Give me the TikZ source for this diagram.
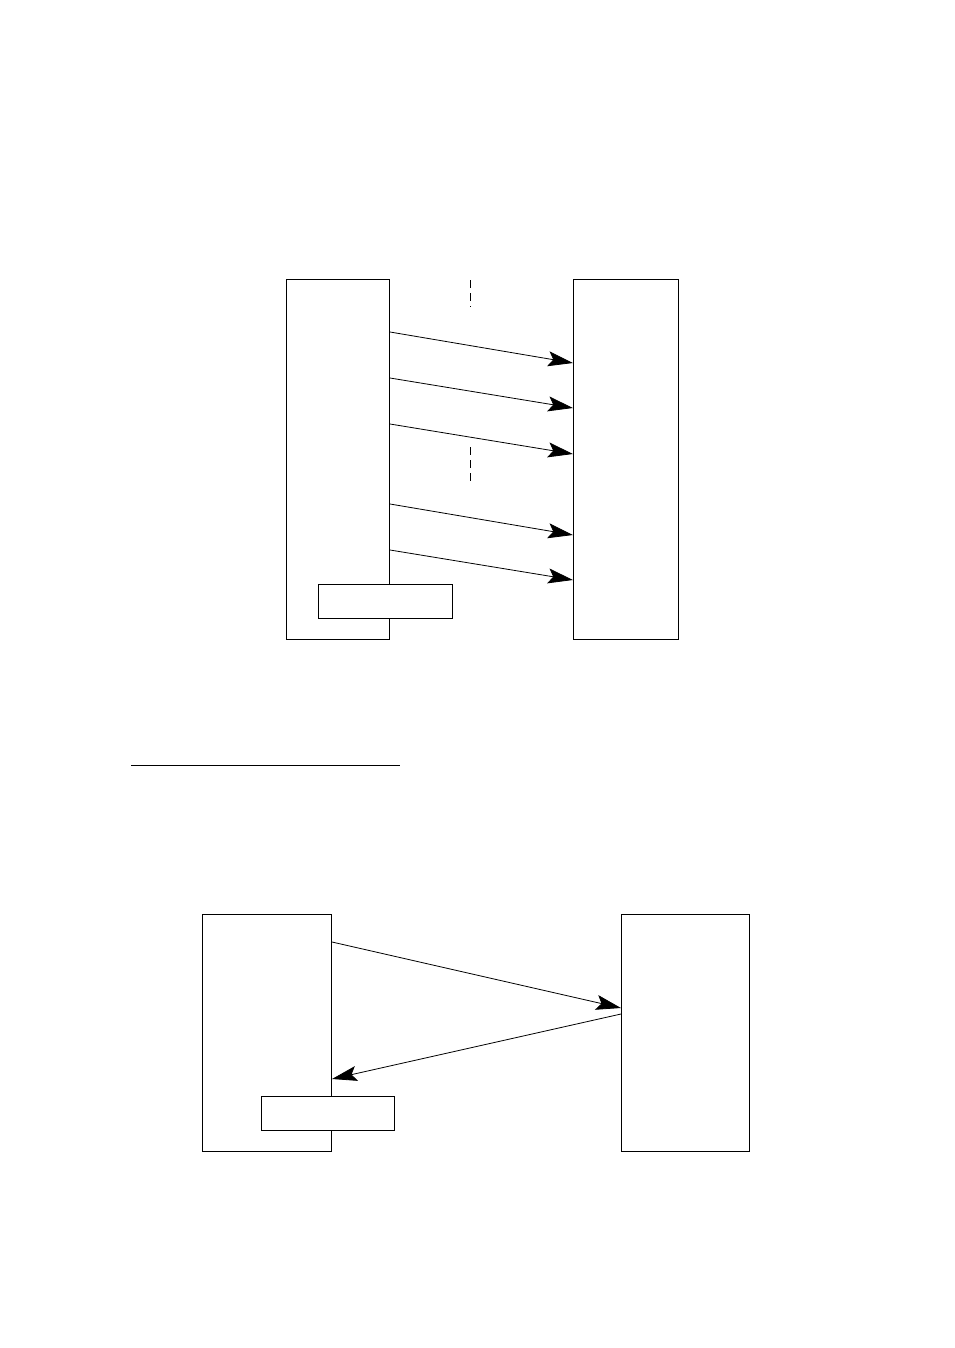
\documentclass[tikz,border=0pt]{standalone}
\usetikzlibrary{arrows.meta,calc}
\begin{document}
\begin{tikzpicture}[x=1pt,y=-1pt,
  box/.style={draw,line width=1pt,fill=white,inner sep=0pt,anchor=north west},
  arr/.style={line width=0.8pt,-{Stealth[length=25pt,width=15pt,inset=5pt]}},
  dash line/.style={line width=0.8pt,dash pattern=on 8pt off 5pt}]
\useasboundingbox (0,0) rectangle (954,1348);
% top diagram
\node[box,minimum width=103pt,minimum height=360pt] (L1) at (286,279) {};
\node[box,minimum width=105pt,minimum height=360pt] (R1) at (573,279) {};
\coordinate (d1a) at (470,280); \coordinate (d1b) at (470,307);
\coordinate (d2a) at (470,447); \coordinate (d2b) at (470,484);
\draw[dash line] (d1a) -- (d1b);
\draw[dash line] (d2a) -- (d2b);
\draw[arr] (L1.east |- 0,332) -- (R1.west |- 0,363);
\draw[arr] (L1.east |- 0,378) -- (R1.west |- 0,408);
\draw[arr] (L1.east |- 0,424) -- (R1.west |- 0,454);
\draw[arr] (L1.east |- 0,504) -- (R1.west |- 0,535);
\draw[arr] (L1.east |- 0,550) -- (R1.west |- 0,580);
\node[box,minimum width=134pt,minimum height=34pt] (S1) at (318,584) {};
% separator line
\coordinate (h1) at (131,765); \coordinate (h2) at (400,765);
\draw[line width=1pt] (h1) -- (h2);
% bottom diagram
\node[box,minimum width=129pt,minimum height=237pt] (L2) at (202,914) {};
\node[box,minimum width=128pt,minimum height=237pt] (R2) at (621,914) {};
\draw[arr] (L2.east |- 0,942) -- (R2.west |- 0,1008);
\draw[arr] (R2.west |- 0,1014) -- (L2.east |- 0,1079);
\node[box,minimum width=133pt,minimum height=34pt] (S2) at (261,1096) {};
\end{tikzpicture}
\end{document}
